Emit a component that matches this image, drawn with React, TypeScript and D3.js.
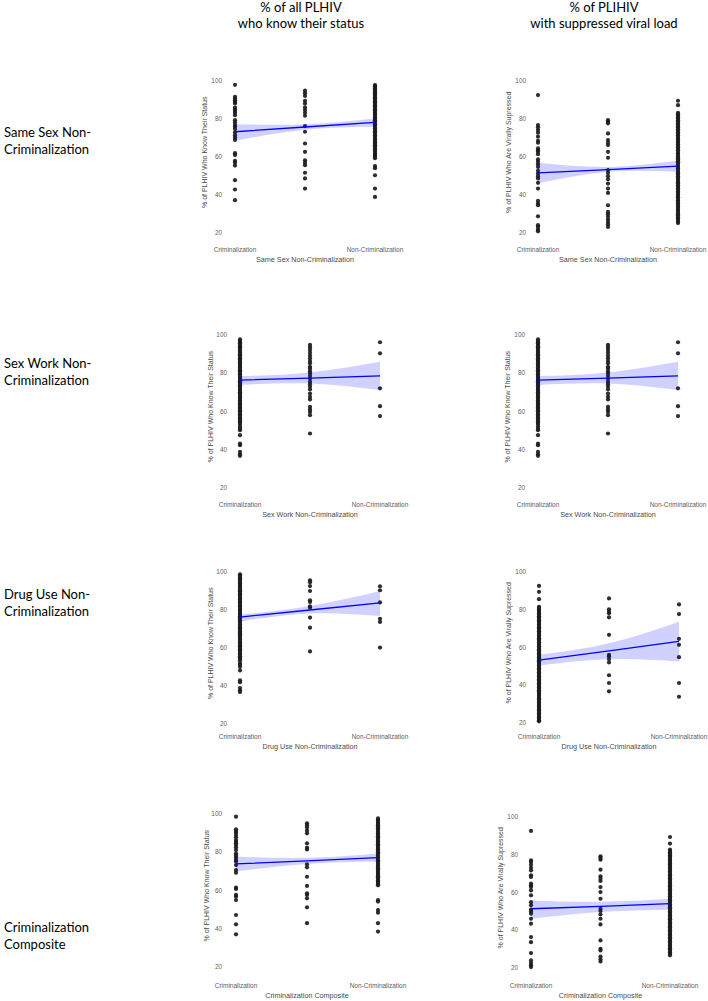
import React from 'react';
import * as d3 from 'd3';

// ---------- text ----------
const HEADER_LEFT = ['% of all PLHIV', 'who know their status'];
const HEADER_RIGHT = ['% of PLIHIV', 'with suppressed viral load'];
const ROW_LABELS = [
  ['Same Sex Non-', 'Criminalization'],
  ['Sex Work Non-', 'Criminalization'],
  ['Drug Use Non-', 'Criminalization'],
  ['Criminalization', 'Composite'],
];
const Y_TITLE_KNOW = '% of PLHIV Who Know Their Status';
const Y_TITLE_VS = '% of PLHIV Who Are Virally Supressed';
const X_TITLES = [
  'Same Sex Non-Criminalization',
  'Sex Work Non-Criminalization',
  'Drug Use Non-Criminalization',
  'Criminalization Composite',
];
const X_TICK_LABELS = ['Criminalization', 'Non-Criminalization'];
const Y_TICKS = [20, 40, 60, 80, 100];
const FIT_X = [0, 0.5, 1];

// ---------- data: row 1 (same sex) ----------
const A_crim = [98, 91.7, 90.8, 89.9, 89, 88.2, 86, 85, 84.2, 83.3, 82, 79.4, 78.2, 76.8, 76, 74.8, 73, 71.5, 70.3, 69, 62, 61, 58, 57, 55.5, 47.8, 42.9, 37.3];
const A_mid = [94.9, 93.5, 92.1, 89.6, 88.2, 86.1, 84.7, 83.3, 81.7, 76.3, 73.3, 67.1, 62.7, 58.3, 57, 55.7, 51.7, 48.7, 43.4];
const A_non = [97.9, 97.3, 96.8, 96.0, 95.5, 94.6, 94.2, 93.5, 92.8, 92.2, 91.5, 90.8, 90.2, 89.3, 88.8, 88.0, 87.3, 86.6, 86.0, 85.1, 84.6, 83.7, 83.1, 82.3, 81.7, 80.8, 80.1, 79.4, 78.8, 77.9, 77.2, 76.4, 75.8, 75.0, 74.3, 73.5, 72.9, 72.1, 71.4, 70.6, 70.0, 69.1, 68.5, 67.7, 67.0, 66.2, 65.6, 64.7, 64.1, 63.2, 62.6, 61.7, 61.1, 60.2, 59.4, 55.2, 54.1, 50.4, 43.4, 39];
const A_fit = [73.3, 75.8, 78.2];
const A_lo = [68.6, 74.4, 75.9];
const A_hi = [77.3, 77.3, 80.3];

const B_crim = [92.6, 76.8, 75.6, 74.2, 72.8, 70.7, 68.5, 67.5, 64.5, 63.6, 62.7, 61.5, 58.7, 57.5, 56.2, 54.8, 52.7, 51.3, 49.9, 48.7, 46.4, 43.4, 36.9, 35.5, 34.6, 28.8, 24.1, 23.2, 21.8, 20.9];
const B_mid = [79.4, 78.6, 77.7, 72.4, 68.9, 67.5, 66.3, 62.7, 59.6, 53.1, 51.7, 49.9, 48.3, 46, 43.4, 41.1, 34.6, 31.1, 29.9, 28.5, 27.1, 25.8, 24.6, 23.2];
const B_non = [89.6, 87.3, 83.3, 82.5, 81.7, 80.9, 80.2, 79.3, 78.7, 77.8, 77.1, 76.2, 75.5, 74.6, 73.9, 73.0, 72.2, 71.5, 70.6, 69.8, 69.1, 68.2, 67.4, 66.7, 65.8, 65.1, 64.2, 63.5, 62.6, 61.8, 61.1, 60.2, 59.4, 58.7, 57.8, 57.2, 56.3, 55.5, 54.8, 53.9, 53.2, 52.3, 51.5, 50.8, 49.9, 49.1, 48.4, 47.5, 46.7, 46.0, 45.1, 44.3, 43.6, 42.7, 41.9, 41.2, 40.3, 39.5, 38.8, 37.9, 37.1, 36.4, 35.5, 34.7, 34.0, 33.1, 32.3, 31.6, 30.7, 29.9, 29.2, 28.3, 27.5, 26.8, 25.9, 25.2];
const B_fit = [51.6, 53.4, 55.2];
const B_lo = [46.2, 52.2, 52.3];
const B_hi = [57.0, 54.8, 58.0];

// ---------- row 2 (sex work) ----------
const C_crim = [97.7, 97.0, 96.2, 95.7, 94.9, 94.1, 93.6, 92.8, 92.2, 91.3, 90.7, 90.0, 89.4, 88.5, 87.9, 87.2, 86.4, 85.9, 85.1, 84.3, 83.8, 83.0, 82.2, 81.6, 80.9, 80.1, 79.5, 78.6, 78.0, 77.3, 76.5, 75.8, 75.2, 74.4, 73.7, 72.9, 72.3, 71.4, 70.8, 70.1, 69.3, 68.7, 67.9, 67.2, 66.6, 65.7, 65.0, 64.4, 63.6, 62.9, 62.1, 61.5, 60.7, 60.0, 59.2, 58.6, 57.8, 57.1, 56.3, 55.7, 54.9, 54.1, 53.4, 52.2, 51.0, 50.2, 47.6, 43.2, 42.4, 38.9, 37.6, 36.8];
const C_mid = [94.8, 93.5, 92.1, 90.7, 89.2, 87.8, 86.4, 85.2, 83.4, 82.5, 81.1, 79.9, 78.5, 77.1, 75.5, 74.3, 72.9, 71.5, 69.4, 67.7, 66.3, 62.4, 61, 59.8, 58.1, 48.5];
const C_non = [96.2, 90.4, 72.1, 62.8, 57.6];
const C_fit = [76.4, 77.5, 78.6];
const C_lo = [73.9, 74.6, 71.2];
const C_hi = [78.5, 80.4, 86.0];

// ---------- row 3 (drug use) ----------
const E_crim = [98.8, 98.1, 97.3, 96.8, 96.0, 95.2, 94.7, 93.9, 93.1, 92.6, 91.8, 91.0, 90.4, 89.7, 88.9, 88.3, 87.5, 86.8, 86.1, 85.3, 84.7, 83.9, 83.2, 82.4, 81.8, 81.0, 80.3, 79.6, 78.9, 78.1, 77.4, 76.7, 76.0, 75.2, 74.6, 73.8, 73.1, 72.3, 71.7, 70.9, 70.2, 69.5, 68.7, 68.1, 67.3, 66.6, 65.8, 65.2, 64.4, 63.7, 62.9, 62.3, 61.5, 60.8, 60.0, 59.4, 58.6, 57.9, 57.1, 56.5, 55.7, 55.0, 54.2, 53.6, 52.1, 51.2, 50.1, 48.2, 43.0, 42.0, 38.9, 37.7, 36.8];
const E_mid = [95.6, 94.6, 92.6, 90, 85.1, 84.2, 81.9, 81.2, 76, 70.7, 58.2];
const E_non = [92.5, 90.4, 84, 75.4, 73.7, 60.2];
const E_fit = [76.3, 80.0, 83.7];
const E_lo = [74.0, 78.2, 76.8];
const E_hi = [77.6, 82.1, 90.0];

const F_crim = [92.6, 89.5, 85.6, 81.6, 80.9, 80.1, 79.4, 78.8, 78.0, 77.3, 76.5, 75.9, 75.1, 74.4, 73.6, 73.0, 72.2, 71.5, 70.7, 70.1, 69.3, 68.6, 67.8, 67.2, 66.4, 65.7, 64.9, 64.3, 63.5, 62.8, 62.0, 61.4, 60.6, 59.9, 59.1, 58.5, 57.7, 57.0, 56.2, 55.6, 54.8, 54.1, 53.3, 52.7, 51.9, 51.2, 50.4, 49.8, 49.0, 48.3, 47.5, 46.9, 46.1, 45.4, 44.6, 44.0, 43.2, 42.5, 41.7, 41.1, 40.3, 39.6, 38.8, 38.2, 37.4, 36.7, 35.9, 35.3, 34.5, 33.8, 33.0, 32.4, 31.6, 30.9, 30.1, 29.5, 28.7, 28.0, 27.2, 26.6, 25.8, 25.1, 24.3, 23.7, 22.9, 22.2, 21.5, 20.9];
const F_mid = [86, 80.2, 78.9, 78.1, 76, 66.7, 56.1, 55.3, 53.9, 52.1, 45.3, 41.2, 36.8];
const F_non = [82.8, 77.7, 64.6, 61.4, 54.9, 41.2, 33.9];
const F_fit = [53.3, 58.2, 63.2];
const F_lo = [50.5, 53.8, 52.6];
const F_hi = [56.1, 62.2, 73.7];

// ---------- row 4 (composite) ----------
const G_crim = [98.6, 92, 91.1, 90.2, 89, 87.8, 86.4, 85.5, 84.7, 83.8, 82.6, 81.2, 79.4, 78.2, 77.2, 76, 75.1, 73.3, 70.7, 69.3, 61.5, 60.8, 57.7, 56.8, 55, 47.2, 42.3, 37.1];
const G_mid = [95.1, 94.1, 92.9, 91.3, 89.9, 84.7, 82.4, 81.5, 73.7, 72.1, 67.2, 62.4, 58.5, 57.7, 55.9, 51.2, 42.9];
const G_non = [97.7, 96.8, 96.3, 95.4, 94.8, 94.1, 93.5, 92.6, 92.1, 91.2, 90.6, 89.8, 89.2, 88.4, 87.9, 87.0, 86.4, 85.6, 85.0, 84.2, 83.7, 82.8, 82.2, 81.4, 80.9, 80.0, 79.4, 78.6, 78.1, 77.2, 76.6, 75.8, 75.3, 74.4, 73.8, 73.0, 72.5, 71.6, 71.0, 70.2, 69.7, 68.8, 68.2, 67.4, 66.9, 66.0, 65.4, 64.6, 64.1, 63.2, 62.7, 55.0, 54.2, 49.8, 48.4, 42.9, 38.5];
const G_fit = [73.9, 75.5, 77.2];
const G_lo = [69.9, 73.9, 75.1];
const G_hi = [77.8, 77.1, 79.4];

const H_crim = [92.6, 77, 76.1, 74.7, 73.1, 71.7, 69.1, 68.2, 64.7, 63.8, 62.9, 61.1, 58.5, 54.9, 53.2, 50.9, 50, 48.8, 46.1, 43.5, 36.4, 33.7, 27.9, 24, 22.6, 21.4, 20.5];
const H_mid = [79.2, 78.3, 77.4, 72.1, 68.6, 67.3, 66.1, 62.9, 60.2, 56.7, 51.4, 50.2, 48.4, 46.1, 43.1, 34.6, 30.2, 29.3, 26.1, 24.6, 23.5];
const H_non = [89.4, 85.9, 82.7, 82.0, 81.2, 80.6, 79.8, 79.1, 78.3, 77.7, 76.9, 76.2, 75.4, 74.8, 74.0, 73.3, 72.5, 71.9, 71.1, 70.4, 69.6, 69.0, 68.2, 67.5, 66.7, 66.1, 65.3, 64.6, 63.8, 63.2, 62.4, 61.7, 60.9, 60.3, 59.5, 58.8, 58.0, 57.4, 56.6, 55.9, 55.1, 54.5, 53.7, 53.0, 52.2, 51.6, 50.8, 50.1, 49.3, 48.7, 47.9, 47.2, 46.4, 45.8, 45.0, 44.3, 43.5, 42.9, 42.1, 41.4, 40.6, 40.0, 39.2, 38.5, 37.7, 37.1, 36.3, 35.6, 34.8, 34.2, 33.4, 32.7, 31.9, 31.3, 30.5, 29.8, 29.0, 28.4, 27.6, 26.7];
const H_fit = [51.4, 52.7, 54.1];
const H_lo = [46.1, 49.7, 50.9];
const H_hi = [55.8, 55.1, 56.7];

// ---------- layout (positions only) ----------
type Layout = { x0: number; x1: number; y100: number; y20: number; tickX: number; titleX: number; labelY: number; xTitleY: number };
const L: Record<string, Layout> = {
  A: { x0: 235, x1: 375, y100: 81, y20: 233, tickX: 222, titleX: 205, labelY: 250, xTitleY: 259 },
  B: { x0: 538, x1: 678, y100: 81, y20: 233, tickX: 526, titleX: 509, labelY: 250, xTitleY: 259 },
  C: { x0: 240, x1: 380, y100: 335, y20: 488, tickX: 227, titleX: 211, labelY: 505, xTitleY: 514 },
  D: { x0: 538, x1: 678, y100: 335, y20: 488, tickX: 525, titleX: 508, labelY: 505, xTitleY: 514 },
  E: { x0: 240, x1: 380, y100: 572, y20: 724, tickX: 227, titleX: 211, labelY: 737, xTitleY: 746 },
  F: { x0: 539, x1: 679, y100: 572, y20: 723, tickX: 526, titleX: 509, labelY: 737, xTitleY: 746 },
  G: { x0: 236, x1: 378, y100: 814, y20: 967, tickX: 222, titleX: 207, labelY: 986, xTitleY: 995 },
  H: { x0: 531, x1: 670, y100: 817, y20: 968, tickX: 518, titleX: 501, labelY: 986, xTitleY: 995 },
};

const PANELS = [
  { key: 'A', lay: L.A, groups: [A_crim, A_mid, A_non], fit: A_fit, lo: A_lo, hi: A_hi, yTitle: Y_TITLE_KNOW, xTitle: X_TITLES[0] },
  { key: 'B', lay: L.B, groups: [B_crim, B_mid, B_non], fit: B_fit, lo: B_lo, hi: B_hi, yTitle: Y_TITLE_VS, xTitle: X_TITLES[0] },
  { key: 'C', lay: L.C, groups: [C_crim, C_mid, C_non], fit: C_fit, lo: C_lo, hi: C_hi, yTitle: Y_TITLE_KNOW, xTitle: X_TITLES[1] },
  { key: 'D', lay: L.D, groups: [C_crim, C_mid, C_non], fit: C_fit, lo: C_lo, hi: C_hi, yTitle: Y_TITLE_KNOW, xTitle: X_TITLES[1] },
  { key: 'E', lay: L.E, groups: [E_crim, E_mid, E_non], fit: E_fit, lo: E_lo, hi: E_hi, yTitle: Y_TITLE_KNOW, xTitle: X_TITLES[2] },
  { key: 'F', lay: L.F, groups: [F_crim, F_mid, F_non], fit: F_fit, lo: F_lo, hi: F_hi, yTitle: Y_TITLE_VS, xTitle: X_TITLES[2] },
  { key: 'G', lay: L.G, groups: [G_crim, G_mid, G_non], fit: G_fit, lo: G_lo, hi: G_hi, yTitle: Y_TITLE_KNOW, xTitle: X_TITLES[3] },
  { key: 'H', lay: L.H, groups: [H_crim, H_mid, H_non], fit: H_fit, lo: H_lo, hi: H_hi, yTitle: Y_TITLE_VS, xTitle: X_TITLES[3] },
];

const AX_FONT = '"Liberation Sans", Arial, sans-serif';
const HEAD_FONT = 'Lato, "Open Sans", sans-serif';

function Panel({ p }: { p: (typeof PANELS)[number] }) {
  const { lay } = p;
  const x = d3.scaleLinear().domain([0, 1]).range([lay.x0, lay.x1]);
  const y = d3.scaleLinear().domain([20, 100]).range([lay.y20, lay.y100]);
  const area = d3
    .area<number>()
    .x((_, i) => x(FIT_X[i]))
    .y0((_, i) => y(p.lo[i]))
    .y1((_, i) => y(p.hi[i]))
    .curve(d3.curveNatural);
  const line = d3
    .line<number>()
    .x((_, i) => x(FIT_X[i]))
    .y((d) => y(d));
  const groupX = [0, 0.5, 1];
  return (
    <g>
      {Y_TICKS.map((t) => (
        <text key={t} x={lay.tickX} y={y(t)} dy="0.35em" textAnchor="end" fontSize={6.4} fill="#5e5e5e" fontFamily={AX_FONT}>
          {t}
        </text>
      ))}
      <text
        transform={`translate(${lay.titleX},${y(62.5)}) rotate(-90)`}
        textAnchor="middle"
        dy="0.35em"
        fontSize={7}
        fill="#4a4a4a"
        fontFamily={AX_FONT}
      >
        {p.yTitle}
      </text>
      {p.groups.map((vals, gi) =>
        vals.map((v, i) => <circle key={`${gi}-${i}`} cx={x(groupX[gi])} cy={y(v)} r={2.1} fill="#1c1c1c" fillOpacity={0.92} />)
      )}
      <path d={area(p.fit) || ''} fill="#0000ff" fillOpacity={0.18} stroke="none" />
      <path d={line(p.fit) || ''} fill="none" stroke="#0000ff" strokeWidth={1.3} />
      {X_TICK_LABELS.map((lbl, i) => (
        <text key={lbl} x={x(i)} y={lay.labelY} dy="0.35em" textAnchor="middle" fontSize={6.5} fill="#5e5e5e" fontFamily={AX_FONT}>
          {lbl}
        </text>
      ))}
      <text x={x(0.5)} y={lay.xTitleY} dy="0.35em" textAnchor="middle" fontSize={7.2} fill="#4a4a4a" fontFamily={AX_FONT}>
        {p.xTitle}
      </text>
    </g>
  );
}

const ROW_LABEL_Y = [132, 363, 594, 927];

export default function App() {
  return (
    <svg
      width={708}
      height={1001}
      style={{ position: 'absolute', left: 0, top: 0, background: '#fff', display: 'block' }}
    >
      <rect x={0} y={0} width={708} height={1001} fill="#fff" />
      {HEADER_LEFT.map((t, i) => (
        <text key={t} x={301} y={7 + i * 16.8} dy="0.35em" textAnchor="middle" fontSize={13} fontFamily={HEAD_FONT} fill="#000">
          {t}
        </text>
      ))}
      {HEADER_RIGHT.map((t, i) => (
        <text key={t} x={604} y={7 + i * 16.8} dy="0.35em" textAnchor="middle" fontSize={13} fontFamily={HEAD_FONT} fill="#000">
          {t}
        </text>
      ))}
      {ROW_LABELS.map((lines, r) =>
        lines.map((t, i) => (
          <text key={`${r}-${i}`} x={4} y={ROW_LABEL_Y[r] + i * 17} dy="0.35em" fontSize={13} fontFamily={HEAD_FONT} fill="#000">
            {t}
          </text>
        ))
      )}
      {PANELS.map((p) => (
        <Panel key={p.key} p={p} />
      ))}
    </svg>
  );
}
